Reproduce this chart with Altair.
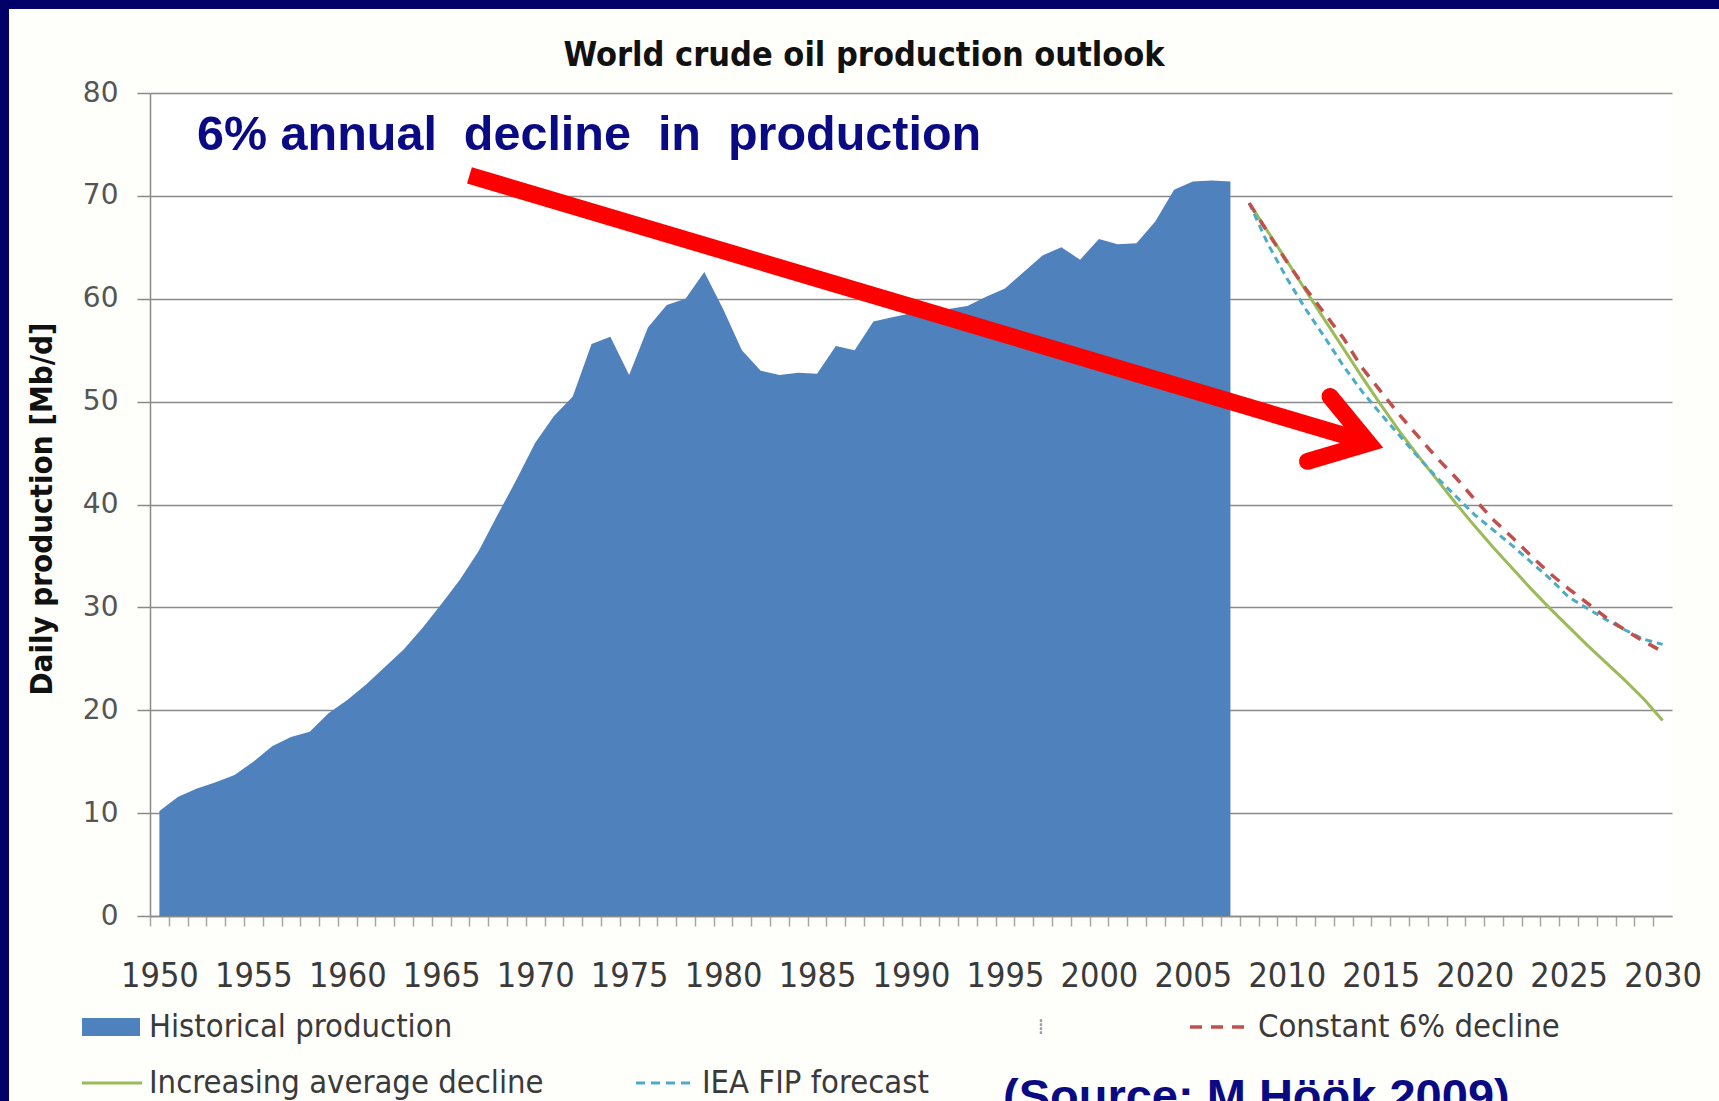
import altair as alt
import pandas as pd

# ---------------- data ----------------
hist_years = list(range(1950, 2008))
hist_values = [10.2, 11.6, 12.4, 13.0, 13.7, 15.0, 16.5, 17.4, 17.9, 19.7,
               21.0, 22.5, 24.2, 25.9, 28.0, 30.3, 32.7, 35.5, 39.0, 42.4,
               46.0, 48.6, 50.5, 55.6, 56.3, 52.6, 57.2, 59.4, 60.0, 62.6,
               59.0, 55.0, 53.0, 52.6, 52.8, 52.7, 55.4, 55.0, 57.8, 58.2,
               58.6, 58.6, 59.0, 59.3, 60.2, 61.0, 62.6, 64.2, 65.0, 63.8,
               65.8, 65.3, 65.4, 67.5, 70.6, 71.4, 71.5, 71.4]
fc_years = list(range(2008, 2031))
increasing_decline = [69.3, 66.5, 63.7, 60.8, 58.0, 55.2, 52.4, 49.7, 47.1, 44.7,
                      42.4, 40.1, 37.9, 35.8, 33.8, 31.8, 29.9, 28.1, 26.3, 24.6,
                      22.9, 21.1, 19.0]
constant_decline = [69.3, 66.4, 63.6, 61.0, 58.6, 56.2, 53.3, 51.0, 48.7, 46.6,
                    44.5, 42.6, 40.5, 38.5, 36.8, 35.0, 33.3, 31.8, 30.4, 29.0,
                    27.8, 26.7, 25.7]
iea_fip = [69.3, 65.3, 62.0, 59.0, 56.3, 53.5, 51.0, 48.8, 46.7, 44.6,
           42.6, 40.8, 39.0, 37.5, 36.0, 34.4, 32.8, 31.0, 29.9, 28.8,
           27.8, 26.9, 26.4]
axis_years = list(range(1950, 2031))
y_ticks = [0, 10, 20, 30, 40, 50, 60, 70, 80]

arrow_shaft_years = [1966.5, 2014.0]
arrow_shaft_values = [72.0, 46.2]
arrow_head_years = [2012.3, 2014.35, 2011.1]
arrow_head_values = [50.5, 45.95, 44.2]

title_text = "World crude oil production outlook"
annotation_text = "6% annual\u00a0 decline\u00a0 in\u00a0 production"
y_title = "Daily production  [Mb/d]"
source_text = "(Source: M H\u00f6\u00f6k 2009)"
legend_labels = ["Historical production", "Constant 6% decline",
                 "Increasing average decline", "IEA FIP forecast"]

# ---------------- layout / style ----------------
W, H = 1522, 823
PAD_L, PAD_T = 150, 93
TOTAL_W, TOTAL_H = 1719, 1101
NAVY = "#000066"
BLUE_AREA = "#4f81bd"
GREEN = "#9bbb59"
RED_D = "#c0504d"
AQUA = "#4bacc6"
GRID = "#8a8a8a"
COND = "DejaVu Sans Condensed, Liberation Sans Narrow, DejaVu Sans, sans-serif"
px_per_year = W / 81.0

hist_df = pd.DataFrame({"year": hist_years, "value": hist_values})
green_df = pd.DataFrame({"year": fc_years, "value": increasing_decline})
red_df = pd.DataFrame({"year": fc_years, "value": constant_decline})
blue_df = pd.DataFrame({"year": fc_years, "value": iea_fip})
shaft_df = pd.DataFrame({"year": arrow_shaft_years, "value": arrow_shaft_values,
                         "i": list(range(len(arrow_shaft_years)))})
head_df = pd.DataFrame({"year": arrow_head_years, "value": arrow_head_values,
                        "i": list(range(len(arrow_head_years)))})
one = pd.DataFrame({"a": [0]})

X = alt.X("year:Q",
          scale=alt.Scale(domain=[1949.5, 2030.5], nice=False, zero=False),
          axis=alt.Axis(values=axis_years, format="d",
                        labelExpr="datum.value % 5 === 0 ? datum.label : ''",
                        labelFont=COND, labelFontSize=34, labelColor="#3a3a3a",
                        labelPadding=50, labelBaseline="middle", labelFlush=False,
                        labelOverlap=False, labelOffset=px_per_year / 2,
                        tickSize=10, tickColor="#a6a6a6", tickWidth=1.5,
                        tickOffset=-px_per_year / 2,
                        domainColor=GRID, domainWidth=1.5,
                        grid=False, title=None))
Y = alt.Y("value:Q",
          scale=alt.Scale(domain=[0, 80], nice=False),
          axis=alt.Axis(values=y_ticks, labelFont="DejaVu Sans", labelFontSize=28,
                        labelColor="#555555", labelPadding=19,
                        tickSize=13, tickColor=GRID, tickWidth=1.5,
                        domainColor=GRID, domainWidth=1.5,
                        grid=True, gridColor=GRID, gridWidth=1.5,
                        title=y_title, titleFont=COND, titleFontSize=31,
                        titleFontWeight="bold", titleColor="#111111",
                        titleAngle=-90, titleX=-108, titleY=H / 2 + 4,
                        titleAlign="center", titleBaseline="middle"))

# frame
top_band = alt.Chart(one).mark_rect(color=NAVY).encode(
    x=alt.value(-PAD_L), x2=alt.value(TOTAL_W - PAD_L),
    y=alt.value(-PAD_T), y2=alt.value(-PAD_T + 9))
left_band = alt.Chart(one).mark_rect(color=NAVY).encode(
    x=alt.value(-PAD_L), x2=alt.value(-PAD_L + 9),
    y=alt.value(-PAD_T), y2=alt.value(TOTAL_H - PAD_T))

area = alt.Chart(hist_df).mark_area(color=BLUE_AREA, opacity=1).encode(x=X, y=Y)
green_line = alt.Chart(green_df).mark_line(color=GREEN, strokeWidth=3).encode(x=X, y=Y)
blue_line = alt.Chart(blue_df).mark_line(color=AQUA, strokeWidth=3,
                                         strokeDash=[7, 5]).encode(x=X, y=Y)
red_line = alt.Chart(red_df).mark_line(color=RED_D, strokeWidth=3.5,
                                       strokeDash=[11, 9]).encode(x=X, y=Y)

shaft = alt.Chart(shaft_df).mark_line(color="#ff0000", strokeWidth=17,
                                      strokeCap="butt").encode(
    x=X, y=Y, order=alt.Order("i:Q"))
head = alt.Chart(head_df).mark_line(color="#ff0000", strokeWidth=17,
                                    strokeJoin="miter", strokeMiterLimit=10,
                                    strokeCap="round").encode(
    x=X, y=Y, order=alt.Order("i:Q"))

title = alt.Chart(one).mark_text(text=title_text, font=COND, fontSize=34,
                                 fontWeight="bold", color="#111111",
                                 align="center", baseline="middle").encode(
    x=alt.value(714), y=alt.value(-37))
annot = alt.Chart(one).mark_text(text=annotation_text, font="Liberation Sans, Arial",
                                 fontSize=48.5, fontWeight="bold", color="#0a0a85",
                                 align="left", baseline="alphabetic").encode(
    x=alt.value(47), y=alt.value(57))
source = alt.Chart(one).mark_text(text=source_text, font="Liberation Sans, Arial",
                                  fontSize=47, fontWeight="bold", color="#0a0a85",
                                  align="left", baseline="top").encode(
    x=alt.value(853), y=alt.value(982))

# legend (manual, Excel style)
LEG_TXT = dict(font=COND, fontSize=32.5, color="#3a3a3a", align="left", baseline="middle")
r1, r2 = 934, 990
leg_rect = alt.Chart(one).mark_rect(color=BLUE_AREA).encode(
    x=alt.value(-68), x2=alt.value(-10), y=alt.value(r1 - 9), y2=alt.value(r1 + 9))
leg_t1 = alt.Chart(one).mark_text(text=legend_labels[0], **LEG_TXT).encode(
    x=alt.value(-1), y=alt.value(r1))
leg_red = alt.Chart(one).mark_rule(color=RED_D, strokeWidth=3.5, strokeDash=[12, 9]).encode(
    x=alt.value(1040), x2=alt.value(1100), y=alt.value(r1))
leg_t2 = alt.Chart(one).mark_text(text=legend_labels[1], **LEG_TXT).encode(
    x=alt.value(1108), y=alt.value(r1))
leg_green = alt.Chart(one).mark_rule(color=GREEN, strokeWidth=3).encode(
    x=alt.value(-68), x2=alt.value(-8), y=alt.value(r2))
leg_t3 = alt.Chart(one).mark_text(text=legend_labels[2], **LEG_TXT).encode(
    x=alt.value(-1), y=alt.value(r2))
leg_blue = alt.Chart(one).mark_rule(color=AQUA, strokeWidth=3, strokeDash=[9, 6]).encode(
    x=alt.value(486), x2=alt.value(546), y=alt.value(r2))
leg_t4 = alt.Chart(one).mark_text(text=legend_labels[3], **LEG_TXT).encode(
    x=alt.value(552), y=alt.value(r2))
leg_dot = alt.Chart(one).mark_text(text="\u205e", font=COND, fontSize=22,
                                   color="#999999", align="center",
                                   baseline="middle").encode(
    x=alt.value(891), y=alt.value(r1))

chart = alt.layer(
    top_band, left_band, area, green_line, blue_line, red_line, shaft, head,
    title, annot, source,
    leg_rect, leg_t1, leg_red, leg_t2, leg_green, leg_t3, leg_blue, leg_t4, leg_dot,
).properties(
    width=W, height=H,
    autosize=alt.AutoSizeParams(type="none"),
    padding={"left": PAD_L, "top": PAD_T, "right": TOTAL_W - PAD_L - W,
             "bottom": TOTAL_H - PAD_T - H},
    background="#fefefb",
).configure_view(stroke=None, fill="#ffffff")

chart.save("out.html", embed_options={"renderer": "svg", "actions": False})
